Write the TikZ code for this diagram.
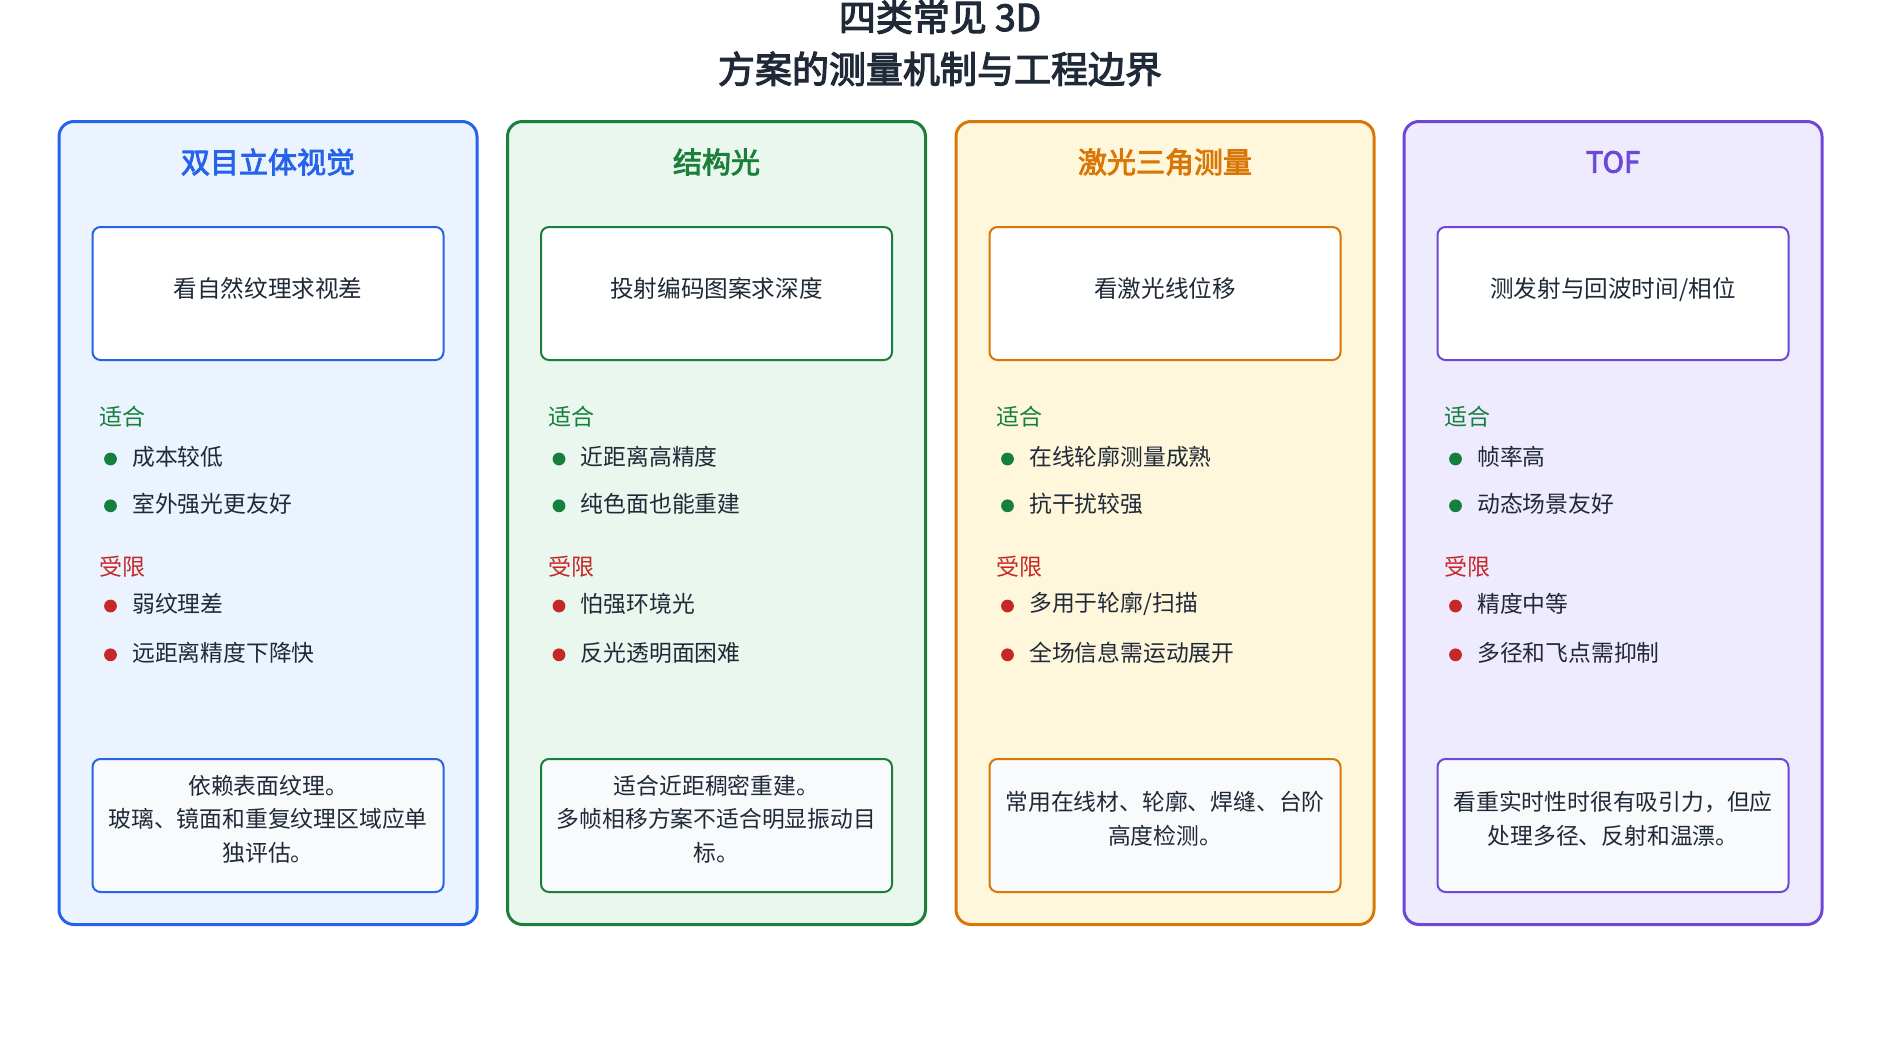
\documentclass[tikz,border=0pt]{standalone}
\usepackage{fontspec}
\setmainfont{Noto Sans CJK SC}
\newfontfamily\headfont{Noto Sans CJK SC}[FakeBold=3]
\usetikzlibrary{positioning}
\definecolor{ink}{HTML}{1F2937}
\definecolor{blueC}{HTML}{2563EB}
\definecolor{blueF}{HTML}{EBF3FF}
\definecolor{greenC}{HTML}{1B7F3B}
\definecolor{greenF}{HTML}{E9F7EE}
\definecolor{orangeC}{HTML}{D97706}
\definecolor{orangeF}{HTML}{FFF7DB}
\definecolor{purpleC}{HTML}{6D48D8}
\definecolor{purpleF}{HTML}{EFEBFE}
\definecolor{fitC}{HTML}{15803D}
\definecolor{limC}{HTML}{C62828}
\definecolor{noteF}{HTML}{F8FAFC}

\begin{document}
\begin{tikzpicture}[x=1pt, y=-1pt,
  col/.style={draw, line width=1.5pt, rounded corners=7.5pt, minimum width=209pt, minimum height=401.5pt, anchor=north west},
  head/.style={font=\headfont\fontsize{14.5}{17}\selectfont},
  probe/.style={draw, line width=1pt, rounded corners=4pt, fill=white, minimum width=175.5pt, minimum height=66.5pt, text=ink, text depth=6pt, font=\fontsize{11.8}{14}\selectfont},
  note/.style={probe, fill=noteF, align=center, text depth=7.5pt, font=\fontsize{11.4}{16.75}\selectfont},
  tag/.style={anchor=west, inner sep=0pt, font=\fontsize{11.5}{14}\selectfont},
  bulletdot/.style={circle, inner sep=0pt, minimum size=6.4pt},
  item/.style={inner sep=0pt, text=ink, yshift=1pt, font=\fontsize{11.4}{14}\selectfont}]
  \useasboundingbox (0,0) rectangle (940,530);
  \node[align=center, text=ink, font=\headfont\fontsize{18.5}{26}\selectfont] (title) at (470,21.5) {四类常见 3D\\方案的测量机制与工程边界};

  % stereo vision
  \node[col, draw=blueC, fill=blueF] (stereo) at (28.75,60) {};
  \node[head, text=blueC] (stereoHead) at ([yshift=-21pt]stereo.north) {双目立体视觉};
  \node[probe, draw=blueC] (stereoPrinciple) at ([yshift=-86.75pt]stereo.north) {看自然纹理求视差};
  \node[tag, text=fitC] (stereoFit) at ([xshift=21pt, yshift=-148.5pt]stereo.north west) {适合};
  \node[bulletdot, fill=fitC] (stereoFitA) at ([xshift=26.5pt, yshift=-169.5pt]stereo.north west) {};
  \node[bulletdot, fill=fitC, below=16.6pt of stereoFitA] (stereoFitB) {};
  \node[item, right=7.3pt of stereoFitA] {成本较低};
  \node[item, right=7.3pt of stereoFitB] {室外强光更友好};
  \node[tag, text=limC] (stereoLim) at ([xshift=21pt, yshift=-223.5pt]stereo.north west) {受限};
  \node[bulletdot, fill=limC] (stereoLimA) at ([xshift=26.5pt, yshift=-243pt]stereo.north west) {};
  \node[bulletdot, fill=limC, below=17.6pt of stereoLimA] (stereoLimB) {};
  \node[item, right=7.3pt of stereoLimA] {弱纹理差};
  \node[item, right=7.3pt of stereoLimB] {远距离精度下降快};
  \node[note, draw=blueC] (stereoNote) at ([yshift=-352.75pt]stereo.north) {依赖表面纹理。\\玻璃、镜面和重复纹理区域应单\\独评估。};

  % structured light
  \node[col, draw=greenC, fill=greenF] (struct) at (253,60) {};
  \node[head, text=greenC] (structHead) at ([yshift=-21pt]struct.north) {结构光};
  \node[probe, draw=greenC] (structPrinciple) at ([yshift=-86.75pt]struct.north) {投射编码图案求深度};
  \node[tag, text=fitC] (structFit) at ([xshift=21pt, yshift=-148.5pt]struct.north west) {适合};
  \node[bulletdot, fill=fitC] (structFitA) at ([xshift=26.5pt, yshift=-169.5pt]struct.north west) {};
  \node[bulletdot, fill=fitC, below=16.6pt of structFitA] (structFitB) {};
  \node[item, right=7.3pt of structFitA] {近距离高精度};
  \node[item, right=7.3pt of structFitB] {纯色面也能重建};
  \node[tag, text=limC] (structLim) at ([xshift=21pt, yshift=-223.5pt]struct.north west) {受限};
  \node[bulletdot, fill=limC] (structLimA) at ([xshift=26.5pt, yshift=-243pt]struct.north west) {};
  \node[bulletdot, fill=limC, below=17.6pt of structLimA] (structLimB) {};
  \node[item, right=7.3pt of structLimA] {怕强环境光};
  \node[item, right=7.3pt of structLimB] {反光透明面困难};
  \node[note, draw=greenC] (structNote) at ([yshift=-352.75pt]struct.north) {适合近距稠密重建。\\多帧相移方案不适合明显振动目\\标。};

  % laser triangulation
  \node[col, draw=orangeC, fill=orangeF] (laser) at (477.25,60) {};
  \node[head, text=orangeC] (laserHead) at ([yshift=-21pt]laser.north) {激光三角测量};
  \node[probe, draw=orangeC] (laserPrinciple) at ([yshift=-86.75pt]laser.north) {看激光线位移};
  \node[tag, text=fitC] (laserFit) at ([xshift=21pt, yshift=-148.5pt]laser.north west) {适合};
  \node[bulletdot, fill=fitC] (laserFitA) at ([xshift=26.5pt, yshift=-169.5pt]laser.north west) {};
  \node[bulletdot, fill=fitC, below=16.6pt of laserFitA] (laserFitB) {};
  \node[item, right=7.3pt of laserFitA] {在线轮廓测量成熟};
  \node[item, right=7.3pt of laserFitB] {抗干扰较强};
  \node[tag, text=limC] (laserLim) at ([xshift=21pt, yshift=-223.5pt]laser.north west) {受限};
  \node[bulletdot, fill=limC] (laserLimA) at ([xshift=26.5pt, yshift=-243pt]laser.north west) {};
  \node[bulletdot, fill=limC, below=17.6pt of laserLimA] (laserLimB) {};
  \node[item, right=7.3pt of laserLimA] {多用于轮廓/扫描};
  \node[item, right=7.3pt of laserLimB] {全场信息需运动展开};
  \node[note, draw=orangeC] (laserNote) at ([yshift=-352.75pt]laser.north) {常用在线材、轮廓、焊缝、台阶\\高度检测。};

  % time of flight
  \node[col, draw=purpleC, fill=purpleF] (tof) at (701.25,60) {};
  \node[head, text=purpleC] (tofHead) at ([yshift=-21pt]tof.north) {TOF};
  \node[probe, draw=purpleC] (tofPrinciple) at ([yshift=-86.75pt]tof.north) {测发射与回波时间/相位};
  \node[tag, text=fitC] (tofFit) at ([xshift=21pt, yshift=-148.5pt]tof.north west) {适合};
  \node[bulletdot, fill=fitC] (tofFitA) at ([xshift=26.5pt, yshift=-169.5pt]tof.north west) {};
  \node[bulletdot, fill=fitC, below=16.6pt of tofFitA] (tofFitB) {};
  \node[item, right=7.3pt of tofFitA] {帧率高};
  \node[item, right=7.3pt of tofFitB] {动态场景友好};
  \node[tag, text=limC] (tofLim) at ([xshift=21pt, yshift=-223.5pt]tof.north west) {受限};
  \node[bulletdot, fill=limC] (tofLimA) at ([xshift=26.5pt, yshift=-243pt]tof.north west) {};
  \node[bulletdot, fill=limC, below=17.6pt of tofLimA] (tofLimB) {};
  \node[item, right=7.3pt of tofLimA] {精度中等};
  \node[item, right=7.3pt of tofLimB] {多径和飞点需抑制};
  \node[note, draw=purpleC] (tofNote) at ([yshift=-352.75pt]tof.north) {看重实时性时很有吸引力，但应\\处理多径、反射和温漂。};
\end{tikzpicture}
\end{document}
